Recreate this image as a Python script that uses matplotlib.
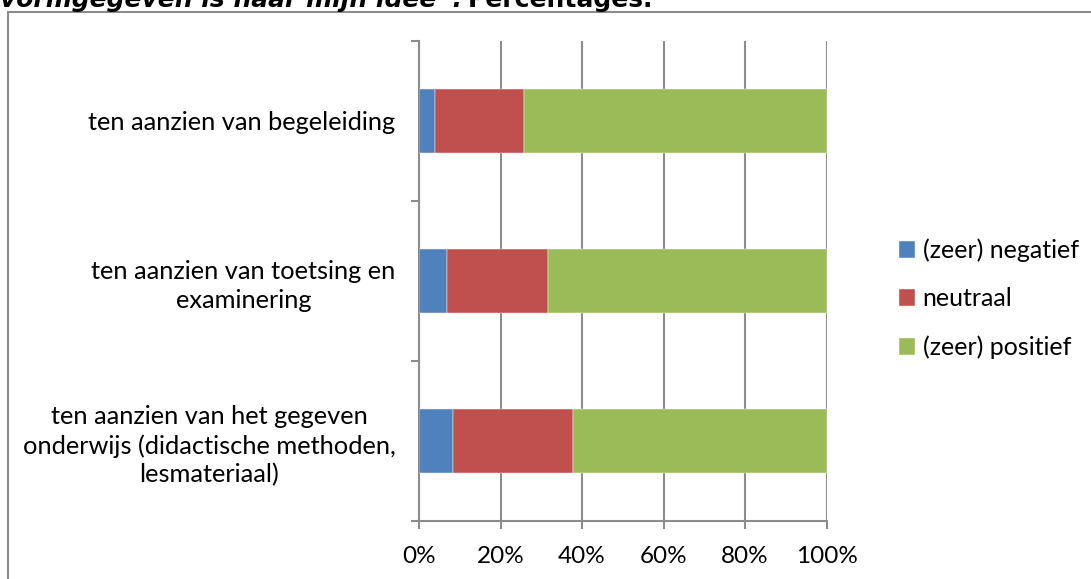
import matplotlib
matplotlib.use("Agg")
import matplotlib.pyplot as plt
from matplotlib.patches import Rectangle
from matplotlib.ticker import FuncFormatter, FixedLocator

categories = [
    "ten aanzien van het gegeven\nonderwijs (didactische methoden,\nlesmateriaal)",
    "ten aanzien van toetsing en\nexaminering",
    "ten aanzien van begeleiding",
]
series_names = ["(zeer) negatief", "neutraal", "(zeer) positief"]
negatief = [8.4, 6.9, 3.9]
neutraal = [29.4, 24.8, 21.8]
positief = [62.2, 68.3, 74.3]
xticks = [0, 20, 40, 60, 80, 100]
colors = ["#4F81BD", "#C0504D", "#9BBB59"]

W, H = 1091, 579
fig = plt.figure(figsize=(W / 100, H / 100), dpi=100)
plt.rcParams['font.family'] = ['Lato', 'DejaVu Sans']

ax = fig.add_axes([419 / W, 1 - 521 / H, (826.7 - 419) / W, (521 - 41) / H])

ypos = list(range(len(categories)))
left = [0] * len(categories)
for name, vals, c in zip(series_names, [negatief, neutraal, positief], colors):
    ax.barh(ypos, vals, left=left, height=0.4, color=c, label=name, zorder=3,
            edgecolor='white', linewidth=0.3)
    left = [l + v for l, v in zip(left, vals)]

gray = "#8C8C8C"
ax.set_xlim(0, 100)
ax.set_ylim(-0.5, len(categories) - 0.5)
ax.set_xticks(xticks)
ax.xaxis.set_major_formatter(FuncFormatter(lambda v, p: f"{int(v)}%"))
ax.set_yticks(ypos)
ax.set_yticklabels(categories, multialignment='center', linespacing=1.3)
ax.yaxis.set_minor_locator(FixedLocator([-0.5, 0.5, 1.5, 2.5]))
ax.tick_params(axis='y', which='major', length=0, pad=17, labelsize=18.3, labelcolor='black')
ax.tick_params(axis='y', which='minor', length=6, width=1.5, color=gray, direction='out')
ax.tick_params(axis='x', length=6, width=1.5, color=gray, direction='out', pad=12,
               labelsize=17.5, labelcolor='black')
ax.grid(axis='x', color=gray, linewidth=1.5, zorder=0)
for s in ['top', 'right']:
    ax.spines[s].set_visible(False)
for s in ['left', 'bottom']:
    ax.spines[s].set_color(gray)
    ax.spines[s].set_linewidth(1.5)

handles, labels = ax.get_legend_handles_labels()
leg = fig.legend(handles, labels, loc='center left', bbox_to_anchor=(899 / W, 1 - 299 / H),
                 frameon=False, fontsize=18, handlelength=0.65, handleheight=0.65,
                 handletextpad=0.3, labelspacing=1.0, borderaxespad=0, borderpad=0)

# outer chart border (only top and left visible)
fig.patches.append(Rectangle((8 / W, -0.1), 1.2, 1 - 12 / H + 0.1, transform=fig.transFigure,
                             fill=False, edgecolor=gray, linewidth=1.5))

# cropped title
t1 = fig.text(0 / W, 1 - 7 / H, "vormgegeven is naar mijn idee\u201d.", fontsize=18, fontweight='bold',
              fontstyle='italic', family='DejaVu Sans', va='baseline', ha='left')
fig.canvas.draw()
bb = t1.get_window_extent()
fig.text(bb.x1 / W + 6 / W, 1 - 7 / H, "Percentages.", fontsize=18, fontweight='bold',
         family='DejaVu Sans', va='baseline', ha='left')

fig.savefig("out.png", dpi=100)
